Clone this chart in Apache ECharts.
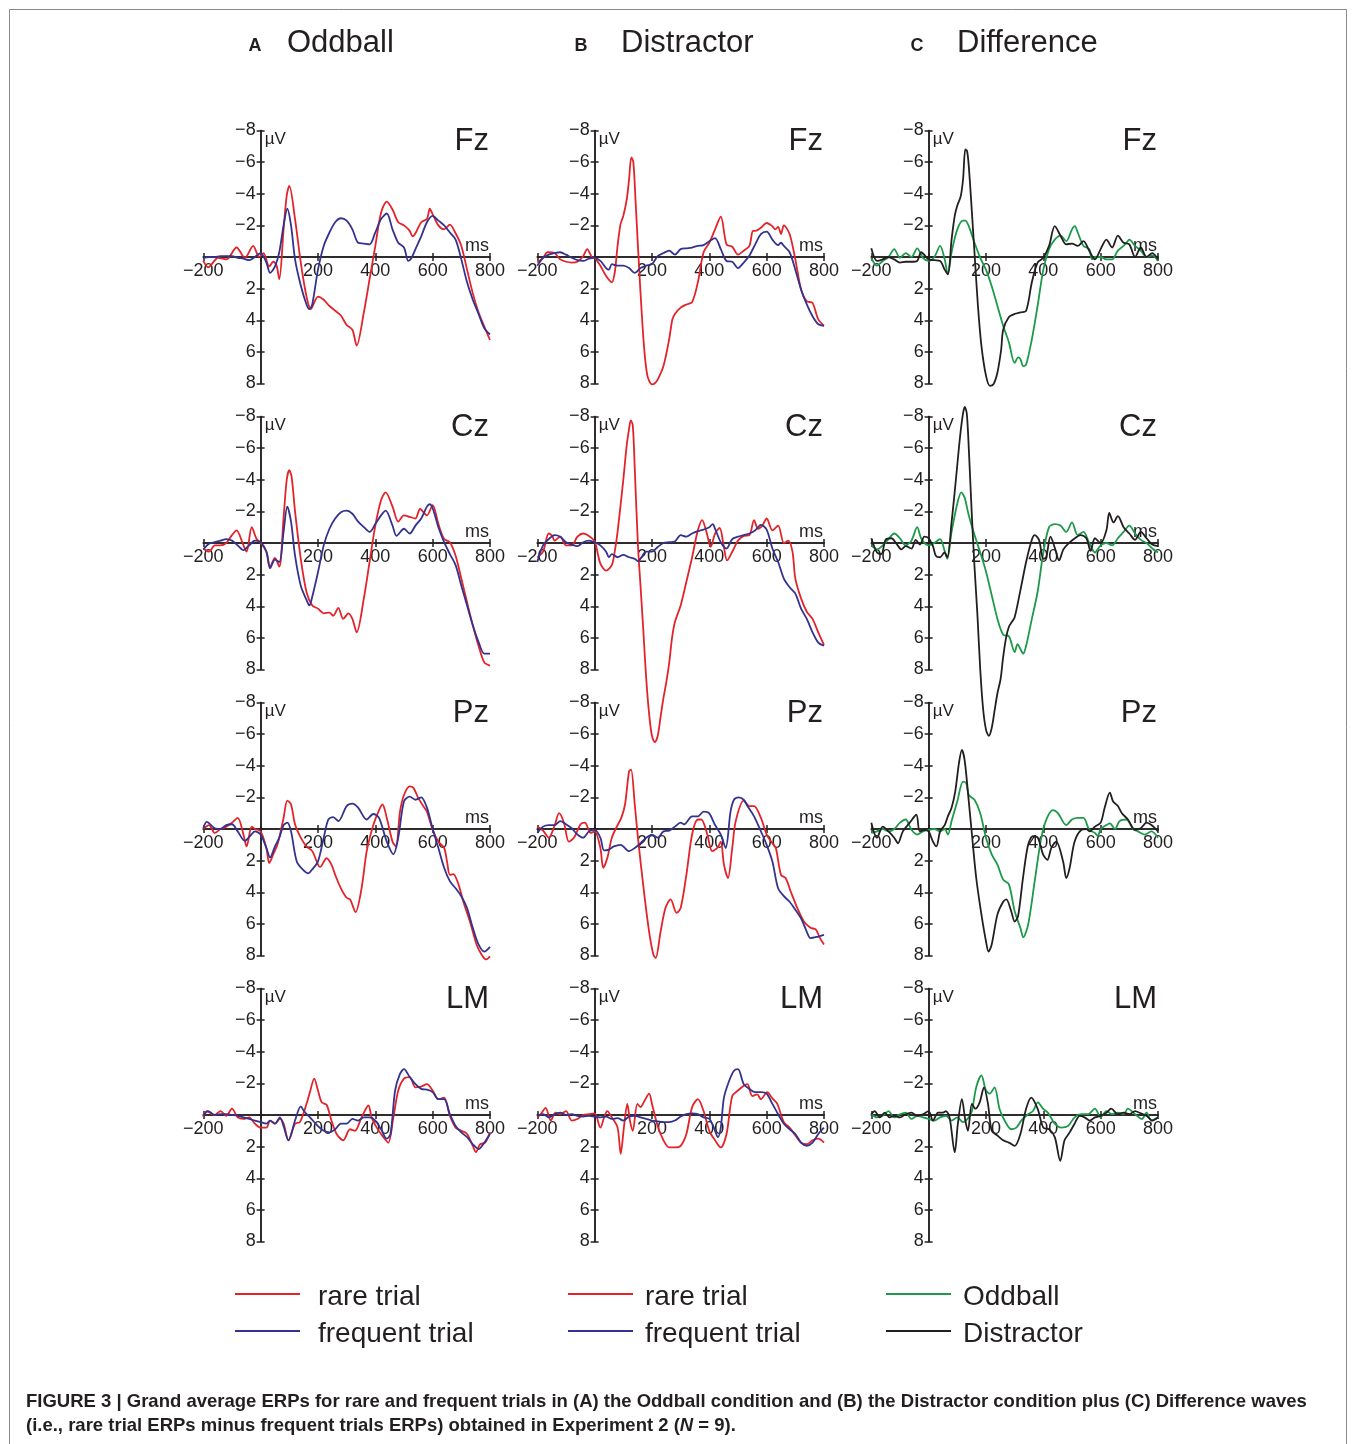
<!DOCTYPE html>
<html><head><meta charset="utf-8">
<script src="https://cdn.jsdelivr.net/npm/echarts@6/dist/echarts.min.js"></script>
<style>html,body{margin:0;padding:0;background:#fff}#c{width:1356px;height:1444px}</style>
</head><body><div id="c"></div><script>
// ---------------- data (time in ms, amplitude in µV) ----------------
const colLetters = ['A', 'B', 'C'];
const colNames = ['Oddball', 'Distractor', 'Difference'];
const electrodes = ['Fz', 'Cz', 'Pz', 'LM'];
const legendLabels = [['rare trial', 'frequent trial'], ['rare trial', 'frequent trial'], ['Oddball', 'Distractor']];
const xTickValues = [-200, 0, 200, 400, 600, 800];
const yTickValues = [-8, -6, -4, -2, 0, 2, 4, 6, 8];
const captionLine1 = 'FIGURE 3 | Grand average ERPs for rare and frequent trials in (A) the Oddball condition and (B) the Distractor condition plus (C) Difference waves';
const captionLine2 = '(i.e., rare trial ERPs minus frequent trials ERPs) obtained in Experiment 2 ({i|N} = 9).';

// Fz
const oddFzRare = [[-200,0.25],[-183,0.65],[-148,0.05],[-119,0.15],[-84,-0.6],[-55,0.05],[-26,-0.7],[-5,0],[10,-0.25],[30,0.6],[44,0.3],[55,0.5],[65,1.4],[80,-1.75],[91,-3.9],[100,-4.5],[120,-2.4],[140,0.35],[160,2.5],[175,3.3],[200,2.5],[220,2.7],[240,3.1],[260,3.4],[280,3.7],[300,4.3],[320,4.6],[335,5.6],[360,3.5],[380,1.4],[400,-0.7],[420,-2.8],[440,-3.5],[460,-3.0],[480,-2.2],[500,-2.0],[520,-1.65],[530,-1.3],[540,-1.5],[560,-2.2],[580,-2.4],[590,-3.05],[600,-2.7],[620,-2.0],[640,-1.75],[660,-2.05],[680,-1.5],[700,-0.7],[720,0.8],[740,2.3],[760,3.5],[780,4.4],[800,5.25]];
const oddFzFreq = [[-200,0.05],[-180,0],[-160,0],[-140,-0.05],[-120,-0.05],[-100,-0.05],[-80,0.05],[-60,0.1],[-40,0.2],[-20,0],[0,-0.25],[20,0.35],[33,1.0],[50,0.6],[65,-0.3],[80,-2.0],[93,-3.05],[106,-2.0],[120,0.15],[140,1.8],[160,3.0],[170,3.3],[180,3.0],[200,0.8],[220,-0.7],[240,-1.55],[260,-2.2],[280,-2.45],[300,-2.3],[320,-1.75],[340,-0.9],[360,-0.85],[380,-0.8],[400,-1.55],[420,-2.4],[440,-2.75],[460,-1.75],[480,-0.9],[500,-0.6],[515,0.25],[525,0.1],[540,-0.5],[560,-1.3],[580,-2.2],[600,-2.6],[620,-2.3],[640,-2.0],[660,-1.55],[680,-1.1],[700,0.15],[720,1.6],[740,2.7],[760,3.6],[780,4.5],[800,4.9]];
const disFzRare = [[-200,0.35],[-180,0.05],[-165,-0.3],[-140,-0.25],[-120,0.15],[-100,0.3],[-80,0.35],[-60,0.3],[-40,-0.05],[-26,-0.5],[-10,0],[0,0.05],[20,0.55],[40,1.2],[60,1.6],[70,1.0],[80,-0.7],[90,-2.05],[100,-2.6],[112,-3.65],[120,-4.9],[128,-6.3],[135,-6.0],[143,-3.45],[151,-0.7],[160,2.25],[172,5.6],[184,7.5],[200,8.05],[209,8.0],[220,7.75],[240,6.9],[260,5.2],[271,3.95],[280,3.6],[300,3.2],[320,3.0],[340,2.85],[360,1.6],[380,-0.3],[400,-0.9],[420,-1.75],[440,-2.55],[460,-0.8],[480,-0.65],[500,-0.15],[520,-0.4],[540,-0.7],[552,-1.65],[560,-1.65],[580,-1.85],[600,-2.15],[620,-1.95],[630,-1.75],[640,-1.9],[650,-1.45],[660,-2.0],[680,-1.45],[700,0.15],[720,2.05],[740,2.8],[760,2.9],[780,3.95],[800,4.35]];
const disFzFreq = [[-200,0.55],[-180,0.05],[-160,-0.15],[-140,-0.25],[-120,-0.3],[-100,-0.15],[-80,0.05],[-60,0.2],[-40,0.25],[-20,0.1],[0,0.05],[20,0.25],[40,0.7],[50,0.8],[60,0.45],[80,0.55],[100,0.55],[120,0.7],[140,1.0],[160,0.7],[180,0.55],[200,0.45],[220,-0.05],[240,-0.25],[260,-0.4],[280,-0.15],[300,-0.5],[320,-0.55],[340,-0.6],[360,-0.7],[380,-0.75],[400,-1.0],[420,-1.2],[440,-0.5],[460,0.25],[480,0.3],[500,0.7],[520,0.35],[540,-0.1],[560,-0.8],[580,-1.45],[600,-1.6],[620,-1.1],[640,-0.75],[650,-0.9],[660,-0.7],[680,-0.3],[700,0.8],[720,2.05],[740,3.0],[760,3.75],[780,4.25],[800,4.35]];
const difFzOdd = [[-200,0.05],[-180,0.55],[-160,0.25],[-140,0],[-120,-0.5],[-100,0.05],[-80,-0.25],[-60,0],[-40,-0.55],[-20,0.05],[0,0.25],[20,0],[40,-0.7],[56,0.15],[67,1.1],[80,-0.3],[100,-1.75],[120,-2.3],[128,-2.3],[140,-1.95],[160,-0.9],[180,0.05],[200,0.8],[220,1.85],[240,3.1],[260,4.35],[280,5.4],[300,6.7],[312,6.35],[320,6.45],[330,6.9],[340,6.8],[360,5.2],[380,3.1],[400,0.8],[420,-0.5],[440,-1.1],[460,-1.35],[480,-1.0],[500,-1.75],[510,-1.95],[520,-1.55],[540,-0.7],[560,-0.5],[570,0.15],[580,0],[600,0],[620,0.15],[640,0.15],[660,-0.4],[680,-0.7],[690,-0.9],[700,-1.1],[720,-0.7],[740,-0.4],[760,0],[780,-0.1],[800,0.25]];
const difFzDis = [[-200,-0.55],[-180,0.25],[-160,0.15],[-140,0],[-120,0.15],[-100,0.35],[-80,0.3],[-60,0.3],[-40,0.25],[-26,-0.3],[0,0.15],[20,0.2],[40,0.25],[56,0.8],[67,1.1],[80,-1.1],[91,-2.6],[100,-3.25],[112,-3.85],[120,-4.9],[128,-6.8],[134,-6.7],[140,-5.75],[151,-2.8],[160,-0.25],[172,3.1],[184,5.6],[200,7.5],[214,8.15],[226,8.05],[240,7.3],[253,5.85],[260,4.6],[280,3.8],[300,3.6],[320,3.5],[340,3.4],[360,1.6],[380,0.35],[400,0.05],[420,-0.7],[440,-1.95],[460,-1.35],[480,-0.8],[500,-0.85],[520,-0.7],[540,-1.0],[560,-0.4],[580,0.15],[600,-0.5],[620,-1.1],[640,-0.6],[660,-1.35],[680,-0.9],[700,-0.8],[720,0],[740,-0.6],[760,0],[780,-0.25],[800,0.15]];
// Cz
const oddCzRare = [[-200,0.35],[-180,0.55],[-160,0.15],[-140,0.15],[-120,0],[-100,-0.5],[-84,-0.8],[-60,0.15],[-49,0.55],[-31,-1.0],[-14,-0.25],[0,0],[20,0.55],[33,1.5],[50,0.95],[65,1.5],[80,-1.6],[91,-4.0],[100,-4.6],[108,-4.2],[120,-2.0],[140,1.0],[160,3.1],[180,3.95],[200,4.15],[220,4.45],[240,4.4],[253,4.6],[271,4.1],[288,4.8],[306,4.45],[320,4.8],[335,5.65],[360,3.5],[380,1.2],[400,-1.1],[420,-2.7],[436,-3.2],[460,-2.3],[480,-1.35],[500,-1.75],[520,-1.65],[540,-1.55],[556,-2.15],[580,-1.75],[600,-2.4],[620,-1.2],[640,-0.25],[660,-0.05],[680,0.8],[700,2.25],[720,3.75],[740,5.2],[760,6.5],[780,7.55],[800,7.75]];
const oddCzFreq = [[-200,0.4],[-180,0.05],[-160,-0.05],[-140,-0.15],[-120,-0.25],[-100,-0.15],[-80,0.15],[-60,0.45],[-40,0.15],[-20,-0.15],[0,-0.05],[20,0.55],[33,1.6],[50,1.05],[65,1.2],[80,-0.7],[93,-2.3],[106,-1.35],[120,0.8],[140,2.7],[160,3.6],[170,3.95],[180,3.4],[200,1.85],[220,0.15],[240,-0.9],[260,-1.55],[280,-1.95],[300,-2.05],[320,-1.85],[340,-1.35],[360,-1.0],[380,-0.7],[400,-1.2],[420,-1.75],[436,-2.05],[460,-1.1],[474,-0.45],[500,-0.9],[520,-0.6],[540,-1.1],[560,-1.55],[580,-2.3],[590,-2.45],[600,-2.2],[620,-1.0],[640,-0.05],[660,0.7],[680,1.4],[700,2.7],[720,3.95],[740,5.2],[760,6.25],[780,7.0],[800,7.0]];
const disCzRare = [[-200,0.9],[-180,0.55],[-160,-0.6],[-148,-0.45],[-140,-0.15],[-120,-0.4],[-100,0.15],[-80,0.15],[-60,-0.4],[-40,-0.6],[-20,-0.45],[0,-0.1],[20,1.3],[40,1.75],[60,1.4],[70,0.55],[80,-0.7],[100,-4.0],[112,-6.2],[120,-7.2],[126,-7.75],[133,-7.45],[140,-4.7],[151,0.15],[160,2.7],[170,5.6],[180,8.6],[190,10.8],[200,12.2],[210,12.6],[220,12.2],[230,11.0],[240,9.8],[250,8.8],[260,7.6],[270,6.0],[280,5.0],[300,3.95],[320,2.45],[340,0.9],[360,-0.8],[375,-1.45],[390,-0.7],[405,0.25],[420,-0.6],[436,-0.95],[450,0.15],[462,1.1],[480,0.55],[500,-0.15],[520,-0.45],[540,-0.5],[556,-1.45],[570,-0.9],[585,-1.1],[600,-1.55],[620,-0.8],[640,-1.1],[660,0],[675,-0.15],[690,0.55],[700,2.25],[720,3.5],[740,4.35],[760,4.8],[780,5.65],[800,6.45]];
const disCzFreq = [[-200,1.2],[-180,0.15],[-160,-0.25],[-140,-0.5],[-120,-0.4],[-100,-0.05],[-80,0.1],[-60,0.2],[-40,-0.05],[-20,-0.15],[0,-0.05],[20,0.15],[40,0.55],[50,0.9],[60,0.7],[80,0.9],[100,0.75],[120,0.9],[140,1.0],[151,1.15],[180,0.55],[200,0.55],[220,0.25],[240,0],[260,-0.05],[280,-0.1],[300,-0.5],[320,-0.4],[340,-0.6],[360,-0.75],[380,-0.85],[400,-1.0],[412,-1.2],[420,-0.9],[440,-0.05],[460,0.35],[480,-0.25],[500,-0.4],[520,-0.5],[540,-0.6],[560,-0.8],[580,-1.15],[600,-0.85],[620,0.35],[640,1.2],[660,2.25],[680,2.8],[700,3.2],[720,4.15],[740,4.8],[760,5.65],[780,6.3],[800,6.5]];
const difCzOdd = [[-200,0.15],[-180,0.4],[-160,0.15],[-140,-0.25],[-120,-0.6],[-100,-0.3],[-80,0.15],[-60,-0.15],[-40,-1.0],[-25,-0.25],[0,0.15],[20,0],[40,-0.25],[55,0.45],[65,1.0],[80,-0.7],[100,-2.5],[114,-3.2],[125,-2.9],[140,-1.75],[160,-0.5],[180,0.6],[200,1.8],[220,3.3],[240,4.8],[260,5.8],[280,5.9],[300,6.9],[310,6.4],[320,6.7],[330,7.0],[340,6.5],[360,4.8],[380,3.1],[400,0.6],[420,-1.0],[440,-1.2],[460,-1.1],[480,-0.7],[500,-1.3],[520,-0.5],[540,-0.7],[560,0],[580,0.6],[600,0.15],[620,0],[640,0.15],[660,-0.3],[680,-0.7],[700,-1.1],[720,-0.6],[740,-0.2],[760,0],[780,0.35],[800,0.6]];
const difCzDis = [[-200,-0.3],[-180,0.6],[-165,0.7],[-150,-0.2],[-130,-0.3],[-110,0.1],[-95,0.4],[-80,0.2],[-60,0.35],[-45,-0.2],[-30,0.1],[-15,-0.4],[0,-0.3],[15,0.2],[25,0.8],[40,0.9],[55,0.6],[65,0.9],[80,-1.3],[95,-4.0],[110,-6.8],[120,-8.2],[126,-8.6],[133,-8.2],[140,-6.0],[150,-2.0],[160,1.5],[170,4.5],[180,8.0],[190,10.5],[200,11.8],[210,12.2],[220,11.7],[230,10.6],[240,9.5],[251,8.6],[260,7.2],[270,6.0],[280,5.3],[290,5.0],[300,4.7],[320,3.0],[340,1.2],[360,-0.2],[370,-0.5],[385,-0.2],[400,1.0],[410,0.9],[425,-0.4],[440,0.3],[455,1.1],[470,0.4],[490,0],[510,-0.3],[530,-0.5],[550,-0.3],[565,0.5],[580,-0.3],[600,0],[620,-0.8],[630,-1.9],[645,-1.3],[660,-1.7],[680,-1.0],[700,-0.6],[720,-0.2],[740,-0.7],[760,-0.3],[780,0.1],[800,0.2]];
// Pz
const oddPzRare = [[-200,0],[-180,-0.25],[-160,0.25],[-140,0],[-120,-0.15],[-100,-0.4],[-80,-0.7],[-60,0.35],[-49,1.1],[-31,-0.15],[-20,0],[0,0.15],[20,1.2],[30,2.15],[44,1.6],[60,0.9],[80,-0.7],[93,-1.8],[106,-1.55],[120,-0.3],[140,0.55],[160,1.1],[180,1.4],[200,2.25],[207,2.4],[230,1.85],[247,2.25],[260,2.9],[280,3.75],[300,4.35],[312,4.45],[331,5.25],[352,3.75],[370,1.4],[393,-0.25],[413,-1.2],[425,-1.55],[440,-0.7],[460,0.8],[472,1.1],[486,-1.1],[500,-2.15],[520,-2.7],[533,-2.6],[550,-1.95],[567,-1.45],[580,-1.1],[600,0.05],[620,0.8],[640,1.2],[650,2.05],[660,2.9],[672,2.85],[690,3.5],[707,4.6],[730,5.85],[753,7.3],[771,7.95],[786,8.25],[800,8.05]];
const oddPzFreq = [[-200,-0.05],[-188,-0.45],[-160,-0.05],[-140,0],[-120,-0.25],[-100,-0.3],[-80,0.15],[-55,0.75],[-37,0.45],[-20,0.15],[0,0.35],[20,1.2],[33,1.8],[50,1.1],[65,0.55],[80,-0.25],[93,-0.4],[106,0.15],[126,2.05],[149,2.6],[166,2.8],[180,2.55],[200,2.05],[220,0.55],[236,-0.6],[253,-0.75],[271,-0.5],[300,-1.45],[320,-1.6],[340,-1.35],[370,-0.6],[393,-0.95],[413,-0.7],[440,0.8],[463,1.6],[480,0.55],[500,-1.75],[520,-2.05],[540,-1.85],[560,-2.0],[580,-1.35],[600,0],[620,1.2],[640,2.45],[660,3.3],[680,3.75],[700,4.25],[720,5.0],[740,6.25],[760,7.3],[780,7.75],[800,7.45]];
const disPzRare = [[-200,-0.15],[-180,0.1],[-160,0.55],[-140,-0.2],[-124,-1.0],[-107,-0.4],[-90,0.8],[-72,0.55],[-49,-0.3],[-34,-0.4],[-14,0.25],[0,0.15],[20,1.2],[30,2.45],[44,1.85],[60,0.55],[80,-0.25],[93,-0.7],[106,-1.55],[120,-3.65],[127,-3.75],[140,-1.55],[151,0.55],[172,3.95],[190,6.5],[205,7.95],[213,8.15],[230,6.5],[247,5.0],[265,4.45],[286,5.3],[300,5.0],[320,2.9],[340,0.35],[360,-0.6],[372,-0.6],[393,0.35],[410,1.4],[428,1.2],[440,0.8],[451,2.25],[465,3.1],[480,1.2],[492,-0.5],[520,-1.8],[540,-1.45],[556,-1.45],[580,-0.7],[600,0.35],[620,0.9],[632,1.2],[650,2.9],[666,3.1],[684,3.95],[707,5.0],[730,5.85],[753,6.25],[771,6.35],[786,6.9],[800,7.3]];
const disPzFreq = [[-200,0.25],[-180,-0.15],[-160,-0.25],[-140,-0.25],[-120,-0.5],[-100,-0.3],[-80,-0.05],[-60,0.35],[-40,0.55],[-20,0.15],[0,0.05],[20,0.55],[33,1.35],[50,1.3],[67,1.1],[91,1.0],[120,1.4],[140,1.2],[160,0.9],[180,0.55],[200,0.35],[220,0.55],[240,0.15],[260,0.1],[280,-0.15],[300,-0.4],[312,-0.3],[340,-0.8],[360,-0.8],[380,-1.1],[399,-1.0],[420,-0.25],[440,0.35],[457,1.2],[474,-1.1],[486,-1.85],[503,-2.0],[520,-1.85],[533,-1.45],[556,-0.8],[580,0.15],[600,1.0],[620,2.05],[640,3.75],[660,4.25],[680,4.6],[700,5.1],[720,5.65],[740,6.5],[753,6.9],[780,6.8],[800,6.7]];
const difPzOdd = [[-200,0.25],[-180,0.15],[-160,0],[-140,0.15],[-120,0],[-100,-0.4],[-80,-0.6],[-60,0.05],[-40,0.35],[-20,0.15],[0,0.05],[20,0],[40,0.15],[56,0],[67,0.35],[80,-0.5],[100,-1.75],[120,-3.0],[131,-2.9],[140,-2.15],[160,-1.85],[180,-1.0],[200,0.55],[220,1.6],[240,2.25],[260,3.2],[280,3.5],[300,5.2],[320,6.25],[330,6.85],[347,6.05],[370,3.3],[393,0.55],[413,-0.7],[434,-1.2],[451,-1.0],[480,-0.25],[500,-0.6],[520,-0.7],[540,-0.7],[560,0.05],[580,0.25],[590,0.45],[600,0],[620,-0.25],[632,-0.35],[650,0],[666,-0.5],[690,-0.6],[713,0],[730,0.15],[753,0.35],[777,0.15],[800,0.55]];
const difPzDis = [[-200,-0.4],[-180,0.55],[-160,-0.15],[-140,0.15],[-120,0.55],[-107,0.9],[-90,0.15],[-66,-0.4],[-43,-0.9],[-31,0.15],[-14,0.05],[0,0.15],[15,0.8],[27,1.1],[40,0.15],[56,-0.25],[67,-0.8],[80,-1.35],[93,-2.4],[106,-4.2],[116,-5.0],[126,-4.3],[140,-1.75],[151,0.35],[166,3.1],[184,5.4],[200,7.1],[209,7.75],[220,7.3],[240,5.4],[260,4.6],[271,4.45],[288,5.2],[300,5.85],[312,5.5],[329,3.1],[347,1.0],[364,0.45],[381,0.55],[399,1.6],[414,1.95],[428,1.2],[445,0.8],[469,2.05],[480,3.1],[492,2.45],[509,0.8],[533,0.05],[550,0],[562,0.15],[580,-0.15],[600,-0.4],[614,-1.35],[632,-2.3],[643,-1.75],[660,-1.45],[674,-1.0],[695,-0.6],[720,0.05],[740,-0.05],[760,-0.4],[777,-0.25],[800,0.15]];
// LM
const oddLmRare = [[-200,0.15],[-188,-0.25],[-160,0],[-140,-0.25],[-120,0.05],[-100,-0.4],[-80,0.15],[-60,0.25],[-40,0.15],[-20,0.55],[0,0.8],[20,0.8],[33,0.35],[50,0.55],[67,0.25],[80,0.55],[97,1.6],[120,0.55],[137,0.45],[160,-0.7],[172,-1.45],[187,-2.3],[200,-1.55],[213,-0.8],[230,-0.65],[247,0.35],[265,1.2],[288,1.6],[312,0.9],[329,1.0],[352,0.15],[376,-0.6],[387,0.15],[405,0.8],[428,1.4],[445,1.75],[463,0.15],[480,-1.55],[500,-2.3],[520,-2.4],[540,-1.75],[560,-1.8],[580,-1.95],[600,-1.55],[620,-1.0],[640,-1.1],[660,0.05],[680,0.8],[700,1.0],[720,1.2],[740,1.95],[751,2.35],[765,1.85],[783,1.75],[800,1.1]];
const oddLmFreq = [[-200,0.05],[-183,-0.25],[-160,0],[-140,-0.05],[-120,-0.05],[-100,0],[-80,0.05],[-60,0.15],[-40,0.25],[-20,0.35],[0,0.45],[20,0.55],[33,0.35],[50,0.55],[67,0.15],[80,0.7],[97,1.6],[120,0.35],[140,-0.55],[151,-0.25],[172,0.15],[200,0.7],[220,1.0],[240,1.1],[260,0.9],[280,0.55],[300,0.55],[320,0.25],[340,0.35],[360,0.15],[380,0.15],[400,0.35],[420,0.9],[440,1.5],[453,1.2],[469,-1.55],[486,-2.6],[500,-2.9],[520,-2.4],[540,-1.95],[560,-1.65],[580,-1.6],[600,-1.45],[620,-1.0],[640,-1.0],[660,-0.05],[680,0.7],[700,1.1],[720,1.4],[740,1.85],[760,2.15],[780,1.75],[800,1.2]];
const disLmRare = [[-200,0.15],[-188,-0.05],[-171,-0.45],[-153,0.35],[-136,-0.15],[-120,-0.05],[-100,-0.25],[-80,0.35],[-60,0.25],[-40,0],[-20,-0.05],[0,-0.1],[20,0.8],[33,0.15],[44,-0.25],[60,0.15],[80,0.8],[91,2.45],[102,0.8],[114,-0.7],[123,0.35],[133,1.0],[149,-0.7],[160,-0.5],[174,-0.9],[190,-1.35],[200,-0.7],[220,0.7],[240,1.6],[260,2.05],[280,2.05],[300,1.95],[320,1.2],[340,-0.5],[360,-1.0],[380,-0.25],[400,1.0],[420,1.6],[440,2.05],[460,1.2],[480,-1.2],[500,-1.55],[520,-1.85],[533,-1.95],[550,-1.2],[567,-1.3],[580,-1.0],[602,-1.45],[620,-1.05],[637,-0.7],[660,0.45],[680,0.8],[700,1.3],[720,1.75],[740,1.85],[760,1.6],[780,1.5],[800,1.75]];
const disLmFreq = [[-200,0.05],[-180,-0.05],[-160,0.15],[-140,-0.05],[-120,-0.15],[-100,0],[-80,-0.05],[-60,0.05],[-40,0.1],[-20,0.05],[0,0.1],[20,0.15],[40,0.1],[60,0.25],[80,0.2],[100,0.35],[120,0.1],[140,0.05],[160,0.15],[180,0.25],[200,0.35],[220,0.4],[240,0.45],[260,0.45],[280,0.35],[300,0.1],[320,-0.05],[340,-0.1],[360,-0.05],[380,0.15],[400,0.25],[416,0.8],[430,1.4],[440,0.8],[451,-1.1],[469,-2.15],[486,-2.8],[500,-2.9],[520,-1.95],[540,-1.65],[560,-1.45],[580,-1.45],[600,-1.35],[620,-0.7],[640,-0.05],[660,0.55],[680,0.9],[700,1.2],[720,1.75],[740,1.95],[760,1.75],[780,1.2],[800,0.8]];
const difLmOdd = [[-200,-0.05],[-180,0.15],[-160,0.05],[-140,-0.25],[-120,0.15],[-100,-0.05],[-80,-0.15],[-60,0.25],[-40,0.05],[-20,0.15],[0,0.25],[20,0.35],[40,0.15],[60,0.05],[80,0.35],[100,0.15],[120,0.45],[140,0.15],[151,-0.25],[166,-1.75],[184,-2.5],[200,-1.55],[213,-1.35],[230,-1.75],[247,-0.4],[265,0.35],[288,0.9],[306,0.8],[323,0.35],[347,-0.05],[364,-0.25],[381,-0.8],[399,-0.4],[416,-0.15],[440,0.55],[463,0.8],[486,0.7],[509,0.15],[533,-0.05],[556,-0.05],[580,-0.4],[600,0.15],[620,-0.25],[640,-0.05],[660,-0.15],[680,-0.05],[695,-0.4],[720,-0.05],[744,0.25],[760,-0.15],[777,0.35],[800,0.15]];
const difLmDis = [[-200,-0.05],[-188,-0.25],[-171,0.15],[-153,-0.15],[-136,0.15],[-120,0.05],[-100,0.15],[-80,-0.05],[-60,-0.15],[-40,0.05],[-20,-0.05],[0,-0.25],[15,0.35],[33,-0.15],[50,-0.15],[60,-0.25],[73,0.15],[91,2.35],[102,0.55],[116,-1.0],[128,0.35],[137,1.0],[151,-0.7],[163,-0.4],[178,-0.8],[193,-1.75],[207,-0.7],[220,1.0],[240,1.3],[260,1.6],[280,1.75],[300,1.95],[320,1.2],[340,-0.4],[358,-1.1],[380,-0.4],[400,0.8],[420,0.9],[440,1.4],[459,2.9],[474,1.6],[492,1.1],[509,0.55],[527,0.05],[544,0.15],[562,0.35],[580,0.15],[600,0.05],[620,-0.15],[637,-0.4],[660,-0.05],[680,-0.15],[700,-0.05],[720,-0.25],[740,-0.1],[760,0.05],[780,0.35],[800,0.15]];

// panel -> [first series, second series]
const panelSeries = [
  [[oddFzRare, oddFzFreq], [disFzRare, disFzFreq], [difFzOdd, difFzDis]],
  [[oddCzRare, oddCzFreq], [disCzRare, disCzFreq], [difCzOdd, difCzDis]],
  [[oddPzRare, oddPzFreq], [disPzRare, disPzFreq], [difPzOdd, difPzDis]],
  [[oddLmRare, oddLmFreq], [disLmRare, disLmFreq], [difLmOdd, difLmDis]]
];

// ---------------- styling / layout ----------------
const INK = '#231f20';
const colColors = [['#e3232a', '#33338f'], ['#e3232a', '#33338f'], ['#1c9a4a', '#231f20']];
const FONT = '"Liberation Sans", Arial, sans-serif';
const GL = 203.3, CDX = 334, GW = 286.7;
const GT = 130.5, RDY = 286, GH = 253;
const XMIN = -200, XMAX = 800, YMIN = -8, YMAX = 8;
const Y_AXIS_SHIFT = -GW * (0 - XMIN) / (XMAX - XMIN);   // move y axis from grid edge to t = 0
const X_AXIS_SHIFT = -GH * (YMAX - 0) / (YMAX - YMIN);   // move x axis from grid bottom to 0 µV

function fmtTick(v) { if (v === 0) return ''; return v < 0 ? '\u2212' + Math.abs(v) : String(v); }

const grids = [], xAxes = [], yAxes = [], series = [], graphics = [];

for (let r = 0; r < 4; r++) {
  for (let c = 0; c < 3; c++) {
    const p = r * 3 + c;
    const left = GL + c * CDX, top = GT + r * RDY;
    grids.push({ left: left, top: top, width: GW, height: GH, outerBoundsMode: 'none' });
    const axisLine = { show: true, onZero: false, lineStyle: { color: INK, width: 1.5 } };
    const tickStyle = { color: INK, width: 1.5 };
    xAxes.push({
      type: 'value', gridIndex: p, min: XMIN, max: XMAX, interval: 200, position: 'bottom', offset: X_AXIS_SHIFT,
      axisLine: axisLine,
      axisTick: { show: true, length: 4, lineStyle: tickStyle },
      axisLabel: { formatter: fmtTick, fontSize: 18, color: INK, fontFamily: FONT, margin: 5 },
      splitLine: { show: false }
    });
    xAxes.push({
      type: 'value', gridIndex: p, min: XMIN, max: XMAX, interval: 200, position: 'bottom', offset: X_AXIS_SHIFT,
      axisLine: axisLine,
      axisTick: { show: true, inside: true, length: 4, lineStyle: tickStyle },
      axisLabel: { show: false }, splitLine: { show: false }
    });
    yAxes.push({
      type: 'value', gridIndex: p, min: YMIN, max: YMAX, interval: 2, inverse: true, position: 'left', offset: Y_AXIS_SHIFT,
      axisLine: axisLine,
      axisTick: { show: true, length: 4, lineStyle: tickStyle },
      axisLabel: { formatter: fmtTick, fontSize: 18, color: INK, fontFamily: FONT, margin: 5 },
      splitLine: { show: false }
    });
    yAxes.push({
      type: 'value', gridIndex: p, min: YMIN, max: YMAX, interval: 2, inverse: true, position: 'left', offset: Y_AXIS_SHIFT,
      axisLine: axisLine,
      axisTick: { show: true, inside: true, length: 4, lineStyle: tickStyle },
      axisLabel: { show: false }, splitLine: { show: false }
    });
    panelSeries[r][c].forEach((d, k) => {
      series.push({
        type: 'line', name: legendLabels[c][k], xAxisIndex: 2 * p, yAxisIndex: 2 * p,
        data: d, symbol: 'none', showSymbol: false, smooth: 0.3, clip: false, silent: true,
        lineStyle: { color: colColors[c][k], width: 1.8 }, z: 3 + k
      });
    });
    const zeroX = left + GW * (0 - XMIN) / (XMAX - XMIN);
    const zeroY = top + GH * (0 - YMIN) / (YMAX - YMIN);
    graphics.push({ type: 'text', style: { text: electrodes[r], x: left + GW - 1, y: top + 11, fill: INK, font: '31px ' + FONT, textAlign: 'right', textVerticalAlign: 'middle' } });
    graphics.push({ type: 'text', style: { text: '\u00b5V', x: zeroX + 4, y: top + 8.5, fill: INK, font: '17px ' + FONT, textAlign: 'left', textVerticalAlign: 'middle' } });
    graphics.push({ type: 'text', style: { text: 'ms', x: left + GW - 1, y: zeroY - 11, fill: INK, font: '18px ' + FONT, textAlign: 'right', textVerticalAlign: 'middle' } });
  }
}

// column titles
const titleLetterX = [255, 581, 917], titleNameX = [287, 621, 957];
for (let c = 0; c < 3; c++) {
  graphics.push({ type: 'text', style: { text: colLetters[c], x: titleLetterX[c], y: 46, fill: INK, font: 'bold 18px ' + FONT, textAlign: 'center', textVerticalAlign: 'middle' } });
  graphics.push({ type: 'text', style: { text: colNames[c], x: titleNameX[c], y: 43, fill: INK, font: '31px ' + FONT, textAlign: 'left', textVerticalAlign: 'middle' } });
}
// legends
const legLineX = [235, 568, 886], legTextX = [318, 645, 963], legY = [1294, 1331];
for (let c = 0; c < 3; c++) {
  for (let k = 0; k < 2; k++) {
    graphics.push({ type: 'line', shape: { x1: legLineX[c], y1: legY[k], x2: legLineX[c] + 65, y2: legY[k] }, style: { stroke: colColors[c][k], lineWidth: 1.8 } });
    graphics.push({ type: 'text', style: { text: legendLabels[c][k], x: legTextX[c], y: legY[k] + 3, fill: INK, font: '28px ' + FONT, textAlign: 'left', textVerticalAlign: 'middle' } });
  }
}
// caption
graphics.push({ type: 'text', style: { text: captionLine1, x: 26, y: 1402, fill: INK, font: 'bold 18.5px ' + FONT, textAlign: 'left', textVerticalAlign: 'middle' } });
graphics.push({ type: 'text', style: { text: captionLine2, x: 26, y: 1426, fill: INK, font: 'bold 18.5px ' + FONT, textAlign: 'left', textVerticalAlign: 'middle',
  rich: { i: { fontStyle: 'italic', fontWeight: 'bold', fontSize: 18.5, fontFamily: FONT, fill: INK } } } });
// frame
graphics.push({ type: 'rect', shape: { x: 9.5, y: 9.5, width: 1337, height: 1450 }, style: { fill: null, stroke: '#8a8a8a', lineWidth: 1 }, z: -1 });

const chart = echarts.init(document.getElementById('c'), null, { renderer: 'canvas' });
chart.setOption({
  backgroundColor: '#ffffff',
  animation: false,
  grid: grids, xAxis: xAxes, yAxis: yAxes, series: series,
  graphic: graphics
});
</script></body></html>
